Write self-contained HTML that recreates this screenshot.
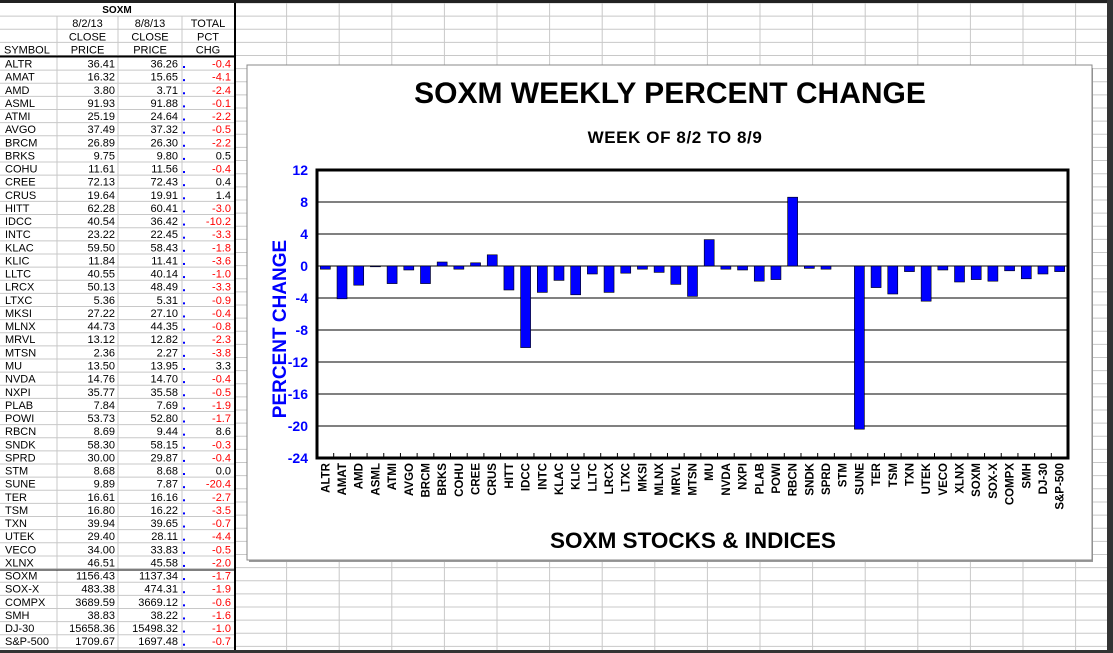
<!DOCTYPE html>
<html><head><meta charset="utf-8"><style>
html,body{margin:0;padding:0;}
body{width:1113px;height:653px;overflow:hidden;position:relative;background:#fff;font-family:"Liberation Sans",Arial,sans-serif;}
</style></head><body>
<svg id="sheet" width="1113" height="653" style="position:absolute;left:0;top:0"></svg>
<script>
const symbols=["ALTR","AMAT","AMD","ASML","ATMI","AVGO","BRCM","BRKS","COHU","CREE","CRUS","HITT","IDCC","INTC","KLAC","KLIC","LLTC","LRCX","LTXC","MKSI","MLNX","MRVL","MTSN","MU","NVDA","NXPI","PLAB","POWI","RBCN","SNDK","SPRD","STM","SUNE","TER","TSM","TXN","UTEK","VECO","XLNX","SOXM","SOX-X","COMPX","SMH","DJ-30","S&P-500"];
const prices0=["36.41","16.32","3.80","91.93","25.19","37.49","26.89","9.75","11.61","72.13","19.64","62.28","40.54","23.22","59.50","11.84","40.55","50.13","5.36","27.22","44.73","13.12","2.36","13.50","14.76","35.77","7.84","53.73","8.69","58.30","30.00","8.68","9.89","16.61","16.80","39.94","29.40","34.00","46.51","1156.43","483.38","3689.59","38.83","15658.36","1709.67"];
const prices1=["36.26","15.65","3.71","91.88","24.64","37.32","26.30","9.80","11.56","72.43","19.91","60.41","36.42","22.45","58.43","11.41","40.14","48.49","5.31","27.10","44.35","12.82","2.27","13.95","14.70","35.58","7.69","52.80","9.44","58.15","29.87","8.68","7.87","16.16","16.22","39.65","28.11","33.83","45.58","1137.34","474.31","3669.12","38.22","15498.32","1697.48"];
const pctChg=[-0.4,-4.1,-2.4,-0.1,-2.2,-0.5,-2.2,0.5,-0.4,0.4,1.4,-3.0,-10.2,-3.3,-1.8,-3.6,-1.0,-3.3,-0.9,-0.4,-0.8,-2.3,-3.8,3.3,-0.4,-0.5,-1.9,-1.7,8.6,-0.3,-0.4,0.0,-20.4,-2.7,-3.5,-0.7,-4.4,-0.5,-2.0,-1.7,-1.9,-0.6,-1.6,-1.0,-0.7];
const yTicks=[12,8,4,0,-4,-8,-12,-16,-20,-24];

const NS="http://www.w3.org/2000/svg";
const svg=document.getElementById('sheet');
function mk(tag,attrs,parent){const e=document.createElementNS(NS,tag);for(const k in attrs)e.setAttribute(k,attrs[k]);(parent||svg).appendChild(e);return e;}
function txt(x,y,s,attrs,parent){const t=mk('text',Object.assign({x:x,y:y,'font-family':'Liberation Sans, Arial, sans-serif','font-size':11},attrs),parent);t.textContent=s;return t;}

const rowH=13.13, top0=57;
const gridG=mk('g',{});


for(let x=234;x<1113;x+=52.6){mk('line',{x1:x,y1:3,x2:x,y2:653,stroke:'#c8c8c8','stroke-width':1},gridG);}
for(let y=3;y<653;y+=rowH){mk('line',{x1:0,y1:y,x2:1113,y2:y,stroke:'#c8c8c8','stroke-width':1},gridG);}
const colX=[0,57,118,182,234];

const tab=mk('g',{});


mk('rect',{x:0,y:3,width:234,height:650,fill:'#fff'},tab);
for(let i=0;i<4;i++){const y=3+rowH*(i+1);mk('line',{x1:0,y1:y,x2:234,y2:y,stroke:'#c8c8c8'},tab);}
for(const x of colX.slice(1,4)){mk('line',{x1:x,y1:16,x2:x,y2:653,stroke:'#c8c8c8'},tab);}
txt(117,13,'SOXM',{'text-anchor':'middle','font-weight':'bold','font-size':10},tab);
const hdr=[["","8/2/13","8/8/13","TOTAL"],["","CLOSE","CLOSE","PCT"],["SYMBOL","PRICE","PRICE","CHG"]];
hdr.forEach((r,i)=>{const y=27+i*13.3;r.forEach((s,j)=>{if(!s)return;const cx=j==0?4:(colX[j]+colX[j+1])/2;txt(cx,y,s,{'text-anchor':j==0?'start':'middle'},tab);});});
mk('line',{x1:0,y1:56.5,x2:234,y2:56.5,stroke:'#000','stroke-width':2},tab);
mk('line',{x1:0,y1:569.5,x2:234,y2:569.5,stroke:'#000','stroke-width':2},tab);
mk('line',{x1:235,y1:3,x2:235,y2:653,stroke:'#000','stroke-width':2},tab);
symbols.forEach((s,i)=>{
  const yT=top0+i*rowH;
  mk('line',{x1:0,y1:yT+rowH,x2:234,y2:yT+rowH,stroke:'#c8c8c8'},tab);
  const y=yT+10.5;
  const row=mk('g',{},tab);
  
  
  txt(5,y,s,{},row);
  txt(115,y,prices0[i],{'text-anchor':'end'},row);
  txt(178,y,prices1[i],{'text-anchor':'end'},row);
  const v=pctChg[i];
  txt(231,y,v.toFixed(1),{'text-anchor':'end',fill:v<0?'#ff0000':'#000'},row);
  mk('rect',{x:183,y:yT+9,width:2,height:2,fill:'#0000ff'},row);
});

mk('rect',{x:0,y:0,width:1113,height:3,fill:'#222'});
mk('rect',{x:1107,y:0,width:6,height:653,fill:'#333'});
mk('rect',{x:0,y:650,width:1113,height:3,fill:'#333'});

const ch=mk('g',{});


mk('rect',{x:249,y:68,width:844,height:494,fill:'#9a9a9a'},ch);
mk('rect',{x:247,y:65,width:845,height:495,fill:'#fff',stroke:'#888','stroke-width':1},ch);
const t1=txt(670,103,'SOXM WEEKLY PERCENT CHANGE',{'text-anchor':'middle','font-weight':'bold','font-size':30},ch);


const t2=txt(675,143,'WEEK OF 8/2  TO 8/9',{'text-anchor':'middle','font-weight':'bold','font-size':17,'letter-spacing':'0.6'},ch);



const PL=317,PR=1068,PT=170,PB=458,YMAX=12,YMIN=-24;
function yS(v){return PT+(YMAX-v)/(YMAX-YMIN)*(PB-PT);}
const bw=(PR-PL)/symbols.length;
function xS(i){return PL+bw*(i+0.5);}

yTicks.forEach(t=>{
  const y=yS(t);
  if(t!==YMAX&&t!==YMIN){const gl=mk('line',{x1:PL,y1:y,x2:PR,y2:y,stroke:'#000','stroke-width':1},ch);}
  const tl=txt(308,y+5,String(t),{'text-anchor':'end','font-weight':'bold','font-size':14,fill:'#0000ff'},ch);
  
  
});
symbols.forEach((s,i)=>{
  const v=pctChg[i];
  const y0=yS(0),y1=yS(v);
  const b=mk('rect',{x:xS(i)-5,y:Math.min(y0,y1),width:10,height:Math.abs(y1-y0),fill:'#0000ff',stroke:'#000','stroke-width':0.6},ch);
  
  
  mk('line',{x1:PL+bw*(i+1),y1:PB,x2:PL+bw*(i+1),y2:PB-5,stroke:'#000'},ch);
  const lx=xS(i)+4, ly=463;
  const l=txt(lx,ly,s,{'text-anchor':'end','font-weight':'bold','font-size':11.5,transform:`rotate(-90 ${lx} ${ly})`},ch);
  
  
});
mk('rect',{x:PL,y:PT,width:PR-PL,height:PB-PT,fill:'none',stroke:'#000','stroke-width':3},ch);
const yt=txt(286,329,'PERCENT CHANGE',{'text-anchor':'middle','font-weight':'bold','font-size':19,fill:'#0000ff',transform:'rotate(-90 286 329)'},ch);


const xt=txt(693,548,'SOXM STOCKS & INDICES',{'text-anchor':'middle','font-weight':'bold','font-size':22.5},ch);


</script>
</body></html>
